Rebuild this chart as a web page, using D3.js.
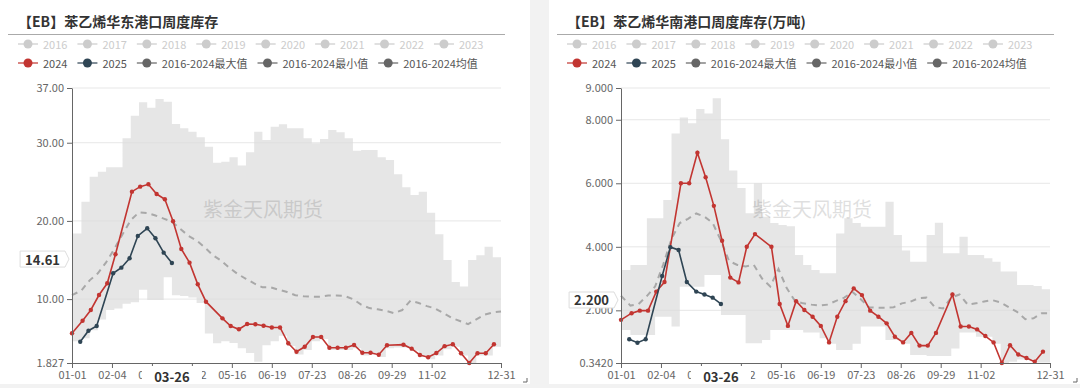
<!DOCTYPE html>
<html>
<head>
<meta charset="utf-8">
<script src="https://cdn.jsdelivr.net/npm/d3@7"></script>
<style>
  body { margin: 0; background: #f2f2f2; }
  svg { display: block; font-family: "Noto Sans CJK SC", "Noto Sans", sans-serif; }
</style>
</head>
<body>
<svg id="chart" width="1080" height="388"></svg>
<script>
// categories: every day of a leap year, as MM-DD
const categories = d3.timeDay.range(new Date(2024, 0, 1), new Date(2025, 0, 1)).map(d3.timeFormat("%m-%d"));
const xTickLabels = ["01-01", "02-04", "03-09", "04-12", "05-16", "06-19", "07-23", "08-26", "09-29", "11-02", "12-31"];
// weekly grid used by the max / min / mean series
const bandDates = categories.filter((d, i) => i === 0 || (i >= 8 && (i - 8) % 7 === 0));

const dates2024 = ["01-01", "01-10", "01-17", "01-24", "01-31", "02-07", "02-21", "02-28", "03-06", "03-13",
  "03-20", "03-27", "04-03", "04-10", "04-17", "04-24", "05-08", "05-15", "05-22", "05-29", "06-05", "06-12",
  "06-19", "06-26", "07-03", "07-10", "07-17", "07-24", "07-31", "08-07", "08-14", "08-21", "08-28", "09-04",
  "09-11", "09-18", "09-25", "10-09", "10-16", "10-23", "10-30", "11-06", "11-13", "11-20", "11-27", "12-04",
  "12-11", "12-18", "12-25"];
const dates2025 = ["01-08", "01-15", "01-22", "02-05", "02-12", "02-19", "02-26", "03-05", "03-12", "03-19", "03-26"];

const legendYears = ["2016", "2017", "2018", "2019", "2020", "2021", "2022", "2023"];
const legendMain = ["2024", "2025", "2016-2024最大值", "2016-2024最小值", "2016-2024均值"];

// 华东
const eastTitle = "【EB】苯乙烯华东港口周度库存";
const eastYTicks = [1.827, 10, 20, 30, 37];
const eastYLabels = ["1.827", "10.00", "20.00", "30.00", "37.00"];
const east2024 = [5.63, 7.24, 8.61, 10.52, 12.02, 15.73, 23.74, 24.38, 24.68, 23.44, 22.77, 19.95, 16.41, 14.66,
  11.89, 9.67, 7.54, 6.56, 6.14, 6.82, 6.78, 6.60, 6.37, 6.37, 4.35, 3.27, 3.9, 5.15, 5.15, 3.78, 3.78, 3.78,
  4.13, 3.14, 3.14, 2.89, 4.09, 4.17, 3.66, 2.85, 2.56, 3.10, 3.98, 4.22, 3.07, 1.827, 3.07, 3.07, 4.22];
const east2025 = [4.55, 5.96, 6.56, 13.30, 14.02, 15.22, 18.07, 19.06, 17.78, 15.94, 14.61];
const eastMax = [18.4, 22.46, 25.66, 26.3, 26.86, 26.86, 30.57, 33.46, 35.17, 34.48, 35.6, 35.25, 32.4, 31.85,
  31.41, 30.7, 29.5, 27.45, 27.58, 28.14, 27.1, 28.78, 31.41, 30.35, 32.05, 32.36, 31.85, 31.85, 30.57, 29.93,
  30.48, 31.63, 31.33, 30.57, 28.98, 29.07, 29.07, 28.14, 27.79, 25.96, 24.3, 23.32, 23.74, 21.05, 18.3, 15.0,
  12.2, 11.6, 15.0, 15.6, 16.7, 15.35, 15.35];
const eastMin = [4.6, 5.0, 6.0, 7.4, 8.6, 8.8, 9.4, 9.6, 11.2, 9.9, 9.9, 12.8, 10.5, 10.4, 10.2, 9.5, 5.6, 4.35,
  4.6, 4.4, 3.7, 3.1, 2.0, 4.1, 4.6, 5.3, 4.0, 2.9, 3.5, 4.6, 4.9, 3.5, 3.5, 3.5, 3.7, 2.8, 2.9, 2.6, 3.7, 3.8,
  3.8, 3.4, 2.6, 2.3, 2.8, 3.6, 3.9, 2.8, 1.827, 2.8, 2.8, 3.9, 3.9];
const eastMean = [10.5, 11.1, 12.4, 13.3, 14.7, 16.4, 18.3, 20.1, 21.1, 21.0, 20.7, 20.3, 19.9, 19.0, 18.1, 17.5,
  16.6, 15.6, 14.9, 14.0, 13.2, 12.6, 12.0, 11.5, 11.5, 11.2, 10.9, 10.5, 10.35, 10.3, 10.3, 10.45, 10.45, 10.4,
  10.0, 9.3, 8.85, 8.7, 8.5, 8.2, 8.6, 9.8, 9.5, 9.1, 8.8, 8.2, 7.6, 7.2, 6.8, 7.4, 8.0, 8.3, 8.4];

// 华南
const southTitle = "【EB】苯乙烯华南港口周度库存(万吨)";
const southYTicks = [0.342, 2, 4, 6, 8, 9];
const southYLabels = ["0.3420", "2.000", "4.000", "6.000", "8.000", "9.000"];
const south2024 = [1.70, 1.91, 1.99, 1.99, 2.59, 2.89, 6.00, 6.00, 6.96, 6.19, 5.29, 4.19, 3.03, 2.88, 4.00,
  4.40, 4.00, 2.20, 1.51, 2.29, 2.01, 1.80, 1.51, 0.99, 1.80, 2.29, 2.69, 2.48, 1.99, 1.80, 1.59, 1.17, 0.99,
  1.29, 0.89, 0.89, 1.29, 2.50, 1.49, 1.49, 1.40, 1.19, 0.99, 0.342, 0.90, 0.61, 0.50, 0.38, 0.70];
const south2025 = [1.09, 0.98, 1.09, 3.08, 3.99, 3.90, 2.89, 2.59, 2.50, 2.40, 2.20];
const southMax = [3.27, 3.43, 3.43, 4.9, 4.9, 5.47, 7.57, 8.07, 7.89, 8.34, 8.2, 8.68, 7.39, 6.4, 5.85, 5.06,
  6.0, 4.95, 4.75, 4.69, 4.65, 3.74, 3.43, 3.27, 3.17, 3.17, 4.42, 4.9, 4.75, 4.63, 4.63, 4.63, 5.42, 4.37,
  3.88, 3.53, 3.53, 4.37, 4.76, 3.8, 3.8, 4.32, 3.74, 3.74, 3.64, 3.53, 3.22, 3.22, 2.8, 2.8, 2.77, 2.66, 2.66];
const southMin = [1.38, 1.22, 1.22, 1.22, 1.8, 1.8, 1.49, 2.74, 2.74, 2.74, 3.11, 3.11, 1.85, 1.85, 1.85, 0.96,
  0.96, 1.07, 1.38, 1.38, 1.38, 1.38, 1.3, 1.3, 1.12, 0.95, 0.75, 0.75, 0.95, 1.49, 1.49, 1.49, 1.07, 1.07,
  0.95, 0.59, 0.59, 0.56, 0.56, 0.56, 0.8, 1.3, 1.3, 1.17, 1.17, 0.95, 0.342, 0.38, 0.45, 0.45, 0.36, 0.36, 0.36];
const southMean = [2.46, 2.15, 2.2, 2.45, 2.75, 3.45, 4.25, 4.75, 4.88, 5.05, 4.95, 4.75, 4.2, 3.55, 3.43, 3.38,
  3.43, 3.0, 2.75, 3.3, 2.7, 2.3, 2.22, 2.18, 2.15, 2.18, 2.3, 2.4, 2.58, 2.35, 2.1, 2.08, 2.08, 2.1, 2.22, 2.27,
  2.38, 2.4, 2.1, 2.06, 2.4, 2.5, 2.18, 2.22, 2.28, 2.32, 2.25, 2.1, 1.95, 1.72, 1.75, 1.91, 1.91];

const pointerDate = "03-26";

const colors = {
  y2024: "#c23531",
  y2025: "#2f4554",
  band: "#e6e6e6",
  mean: "#a8a8a8",
  stat: "#666"
};

const panels = [
  {offset: 0, width: 530, title: eastTitle, yTicks: eastYTicks, yLabels: eastYLabels,
    s2024: east2024, s2025: east2025, max: eastMax, min: eastMin, mean: eastMean, pointer: "14.61"},
  {offset: 549, width: 531, title: southTitle, yTicks: southYTicks, yLabels: southYLabels,
    s2024: south2024, s2025: south2025, max: southMax, min: southMin, mean: southMean, pointer: "2.200"}
];

const svg = d3.select("#chart");

const drawPanel = (p) => {
  const g = svg.append("g").attr("transform", `translate(${p.offset}, 0)`);
  const plot = {left: 72, right: 501, top: 88, bottom: 363};

  g.append("rect").attr("width", p.width).attr("height", 384).attr("fill", "#fff");

  g.append("text")
    .attr("x", 18).attr("y", 21)
    .attr("dominant-baseline", "central")
    .attr("font-size", 14).attr("font-weight", "bold")
    .attr("fill", "#333")
    .text(p.title);
  g.append("line")
    .attr("x1", 8).attr("x2", 505).attr("y1", 34.5).attr("y2", 34.5)
    .attr("stroke", "#aaa");

  // legend
  const drawLegendRow = (items, y, colorOf, textColor) => {
    let x = 18;
    items.forEach((name) => {
      const c = colorOf(name);
      g.append("line").attr("x1", x).attr("x2", x + 20).attr("y1", y).attr("y2", y)
        .attr("stroke", c).attr("stroke-width", 1.5).attr("opacity", 0.8);
      g.append("circle").attr("cx", x + 10).attr("cy", y).attr("r", 4.5).attr("fill", c);
      const t = g.append("text").attr("x", x + 25).attr("y", y)
        .attr("dominant-baseline", "central")
        .attr("font-size", 11).attr("fill", textColor).text(name);
      x += 25 + t.node().getComputedTextLength() + 10;
    });
  };
  drawLegendRow(legendYears, 44, () => "#ccc", "#ccc");
  drawLegendRow(legendMain, 63, (n) => n === "2024" ? colors.y2024 : n === "2025" ? colors.y2025 : colors.stat, "#555");

  const x = d3.scalePoint().domain(categories).range([plot.left, plot.right]);
  const y = d3.scaleLinear()
    .domain([p.yTicks[0], p.yTicks[p.yTicks.length - 1]])
    .range([plot.bottom, plot.top]);

  const band = bandDates.map((d, i) => ({date: d, max: p.max[i], min: p.min[i], mean: p.mean[i]}));

  g.append("path").datum(band)
    .attr("fill", colors.band)
    .attr("d", d3.area()
      .x((d) => x(d.date))
      .y0((d) => y(d.min))
      .y1((d) => y(d.max))
      .curve(d3.curveStepAfter));

  g.append("g").selectAll("line")
    .data(p.yTicks.slice(1))
    .join("line")
    .attr("x1", plot.left).attr("x2", plot.right)
    .attr("y1", (d) => y(d)).attr("y2", (d) => y(d))
    .attr("stroke", "#ddd").attr("opacity", 0.7);

  g.append("text")
    .attr("x", 203).attr("y", 208)
    .attr("dominant-baseline", "central")
    .attr("font-size", 20).attr("fill", "#000").attr("opacity", 0.12)
    .text("紫金天风期货");

  g.append("path").datum(band)
    .attr("fill", "none")
    .attr("stroke", colors.mean).attr("stroke-width", 2)
    .attr("stroke-dasharray", "6,5")
    .attr("d", d3.line().x((d) => x(d.date)).y((d) => y(d.mean)));

  const drawSeries = (dates, values, color) => {
    const pts = dates.map((d, i) => ({date: d, value: values[i]}));
    g.append("path").datum(pts)
      .attr("fill", "none").attr("stroke", color).attr("stroke-width", 1.6)
      .attr("d", d3.line().x((d) => x(d.date)).y((d) => y(d.value)));
    g.append("g").selectAll("circle")
      .data(pts)
      .join("circle")
      .attr("cx", (d) => x(d.date)).attr("cy", (d) => y(d.value))
      .attr("r", 2.2).attr("fill", color);
  };
  drawSeries(dates2024, p.s2024, colors.y2024);
  drawSeries(dates2025, p.s2025, colors.y2025);

  const xAxis = g.append("g")
    .attr("transform", `translate(0, ${plot.bottom})`)
    .call(d3.axisBottom(x).tickValues(xTickLabels).tickSize(5).tickSizeOuter(0).tickPadding(3));
  const yAxis = g.append("g")
    .attr("transform", `translate(${plot.left}, 0)`)
    .call(d3.axisLeft(y).tickValues(p.yTicks).tickFormat((d, i) => p.yLabels[i]).tickSize(5).tickSizeOuter(0).tickPadding(3));
  [xAxis, yAxis].forEach((a) => {
    a.select(".domain").attr("stroke", "#666");
    a.selectAll(".tick line").attr("stroke", "#666");
    a.selectAll(".tick text").attr("fill", "#666").attr("font-size", 11)
      .attr("font-family", "\"Noto Sans CJK SC\", \"Noto Sans\", sans-serif");
  });

  // axis pointer labels
  const px = x(pointerDate);
  g.append("rect")
    .attr("x", px - 30).attr("y", 366).attr("width", 60).attr("height", 18)
    .attr("fill", "#fff");
  g.append("text")
    .attr("x", px).attr("y", 376)
    .attr("text-anchor", "middle").attr("dominant-baseline", "central")
    .attr("font-size", 13).attr("font-weight", "bold").attr("fill", "#333")
    .text(pointerDate);

  const py = y(+p.pointer) - 4;
  const label = g.append("g");
  const pt = label.append("text")
    .attr("y", py)
    .attr("text-anchor", "end").attr("dominant-baseline", "central")
    .attr("font-size", 13).attr("font-weight", "bold").attr("fill", "#333")
    .text(p.pointer);
  const x1 = plot.left - 7;
  const tw = pt.node().getComputedTextLength();
  const x0 = x1 - tw - 10;
  pt.attr("x", x1 - 5);
  label.insert("path", "text")
    .attr("d", `M${x0},${py - 8}H${x1}L${x1 + 4},${py}L${x1},${py + 8}H${x0}Z`)
    .attr("fill", "#fff").attr("stroke", "#ddd");

  g.append("path")
    .attr("d", `M${p.width - 3},${378}V${382}H${p.width - 7}`)
    .attr("fill", "none").attr("stroke", "#666");
};

panels.forEach(drawPanel);
</script>
</body>
</html>
